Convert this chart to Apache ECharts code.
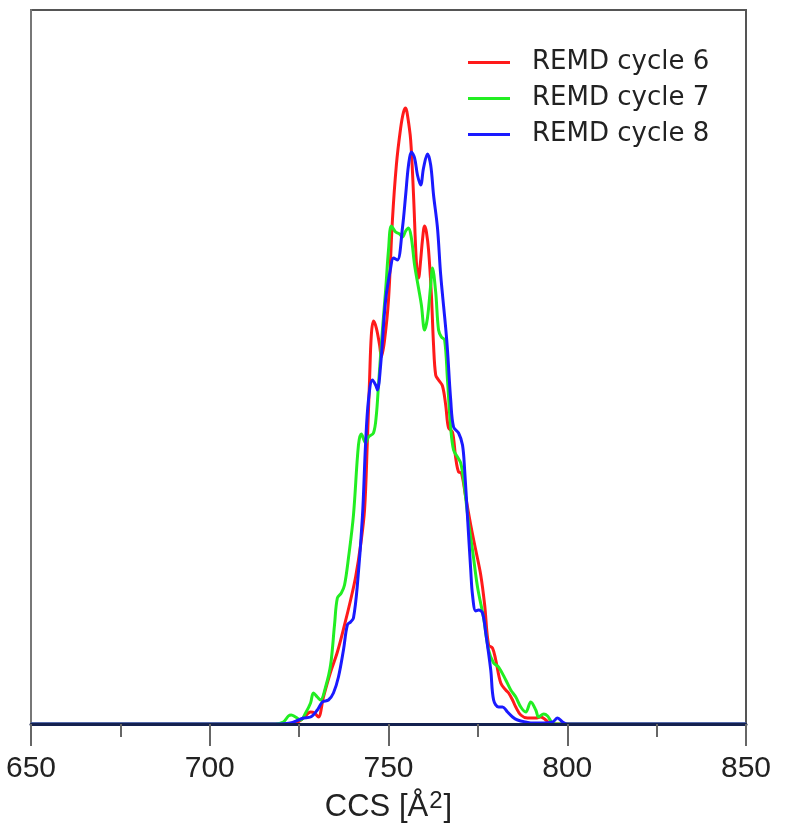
<!DOCTYPE html>
<html>
<head>
<meta charset="utf-8">
<script src="https://cdn.jsdelivr.net/npm/echarts@6/dist/echarts.min.js"></script>
<style>
  html, body { margin: 0; padding: 0; background: #fff; }
  #main { width: 785px; height: 823px; }
</style>
</head>
<body>
<div id="main"></div>
<script>
// CCS values (Å^2) and relative populations
var ccs6 = [650, 719.7, 724.0, 726.2, 728.2, 729.3, 730.4, 731.8, 733.8, 735.7, 737.7, 739.4, 740.8, 742.2, 743.3, 744.1, 744.7, 745.2, 745.8, 746.6, 747.5, 748.0, 748.9, 750.0, 751.1, 752.2, 753.4, 754.2, 754.8, 755.3, 756.2, 757.0, 757.8, 758.4, 759.0, 759.5, 760.1, 760.6, 761.2, 762.0, 762.6, 763.2, 764.0, 765.1, 766.0, 766.8, 767.9, 768.8, 769.6, 770.4, 771.6, 773.0, 774.4, 775.8, 776.9, 778.0, 779.1, 780.0, 781.4, 782.8, 783.6, 784.7, 785.6, 787.0, 788.9, 791.2, 792.6, 794.0, 795.4, 798.2, 850];
var pop6 = [0, 0, 0.14, 0.84, 1.68, 1.54, 0.98, 3.78, 7.28, 10.08, 13.87, 17.37, 20.59, 25.07, 29.97, 39.78, 48.18, 54.48, 56.44, 55.46, 53.08, 51.40, 53.78, 59.38, 70.59, 78.29, 83.47, 85.71, 86.27, 85.29, 81.79, 74.09, 64.71, 62.46, 64.99, 67.79, 69.75, 68.91, 66.39, 60.08, 53.08, 48.88, 48.18, 47.34, 44.68, 41.46, 40.90, 37.25, 35.29, 35.15, 31.79, 27.87, 24.37, 20.87, 16.67, 11.06, 10.64, 8.96, 5.74, 4.76, 4.34, 3.36, 2.38, 1.26, 0.84, 0.84, 0.98, 0.56, 0, 0, 0];

var ccs7 = [650, 718.3, 720.6, 722.0, 722.8, 724.0, 725.4, 726.8, 728.2, 729.0, 730.1, 731.0, 732.4, 733.8, 734.9, 735.7, 736.8, 737.7, 738.8, 740.2, 741.6, 742.4, 743.6, 744.4, 745.8, 746.6, 747.2, 748.3, 749.2, 750.0, 750.8, 752.0, 753.1, 753.9, 754.8, 755.6, 756.4, 757.3, 758.4, 759.2, 760.1, 760.9, 761.8, 762.3, 763.2, 764.0, 764.8, 765.7, 766.5, 767.4, 768.2, 769.3, 770.2, 771.0, 772.4, 773.5, 774.9, 776.6, 778.0, 779.4, 780.8, 782.8, 784.2, 785.6, 787.0, 788.4, 789.8, 791.2, 792.0, 793.4, 794.5, 795.9, 798.2, 850];
var pop7 = [0, 0, 0.28, 1.12, 1.26, 0.98, 0.56, 1.54, 2.94, 4.34, 3.78, 3.36, 5.18, 8.26, 13.87, 17.65, 18.35, 19.47, 23.25, 29.27, 39.08, 40.62, 39.36, 40.20, 40.76, 43.28, 47.48, 55.18, 60.78, 66.39, 69.75, 68.91, 68.63, 68.21, 69.05, 69.47, 68.07, 64.29, 61.06, 58.68, 55.18, 56.86, 61.48, 63.87, 60.50, 55.18, 54.20, 53.78, 48.18, 41.46, 38.38, 37.39, 36.55, 34.17, 28.15, 24.37, 19.19, 14.85, 10.36, 8.54, 7.98, 6.16, 4.76, 3.78, 2.38, 1.68, 3.08, 1.96, 0.98, 1.40, 1.12, 0.14, 0, 0];

var ccs8 = [650, 718.3, 722.5, 724.8, 726.2, 728.2, 730.1, 731.5, 733.2, 734.6, 736.0, 737.4, 738.5, 739.4, 740.2, 741.3, 742.7, 743.6, 744.4, 745.5, 746.4, 746.9, 747.8, 749.2, 750.6, 751.4, 752.5, 753.9, 754.8, 755.6, 756.4, 757.3, 758.1, 759.0, 759.8, 760.9, 761.8, 762.6, 763.7, 764.6, 766.0, 766.5, 767.4, 768.2, 769.6, 770.7, 771.3, 772.1, 773.0, 773.5, 774.4, 775.2, 776.3, 777.2, 778.6, 779.4, 780.8, 781.9, 783.3, 784.7, 786.1, 788.4, 790.6, 793.4, 795.9, 797.3, 798.7, 800.1, 802.4, 850];
var pop8 = [0, 0, 0.14, 0.56, 0.84, 0.98, 1.96, 3.08, 3.36, 4.34, 6.58, 10.36, 13.87, 14.29, 14.85, 19.47, 28.99, 39.36, 45.38, 48.18, 47.48, 46.78, 50.28, 59.38, 63.87, 65.27, 64.99, 69.47, 74.09, 78.29, 80.11, 79.27, 76.89, 75.49, 77.87, 79.83, 78.29, 74.09, 69.47, 62.89, 55.46, 52.38, 45.38, 41.60, 40.76, 39.08, 35.57, 28.99, 21.57, 18.07, 15.83, 15.97, 15.55, 12.75, 7.56, 3.36, 2.38, 2.38, 1.68, 0.98, 0.56, 0.28, 0.14, 0.14, 0.28, 0.84, 0.28, 0, 0, 0];

var seriesNames = ['REMD cycle 6', 'REMD cycle 7', 'REMD cycle 8'];
var seriesColors = ['#ff1a1a', '#22ee22', '#1a1aff'];
var xTicks = [650, 700, 750, 800, 850];

function pairs(xs, ys) {
    var out = [];
    for (var i = 0; i < xs.length; i++) {
        out.push([xs[i], ys[i]]);
    }
    return out;
}

var allData = [pairs(ccs6, pop6), pairs(ccs7, pop7), pairs(ccs8, pop8)];

var dom = document.getElementById('main');
var myChart = echarts.init(dom);

var series = [];
for (var i = 0; i < 3; i++) {
    series.push({
        name: seriesNames[i],
        type: 'line',
        data: allData[i],
        showSymbol: false,
        smooth: 0.35,
        color: seriesColors[i],
        lineStyle: { width: 3, color: seriesColors[i] }
    });
}

var option = {
    animation: false,
    backgroundColor: '#fff',
    grid: {
        left: 31,
        right: 39,
        top: 10,
        bottom: 99,
        outerBoundsMode: 'none',
        show: true,
        borderColor: '#555',
        borderWidth: 2
    },
    legend: {
        orient: 'vertical',
        left: 463,
        top: 44,
        itemWidth: 42,
        itemHeight: 3,
        itemGap: 9,
        icon: 'rect',
        textStyle: {
            fontFamily: 'DejaVu Sans',
            fontSize: 26,
            lineHeight: 27,
            color: '#222',
            padding: [0, 0, 0, 17]
        },
        data: seriesNames
    },
    xAxis: {
        type: 'value',
        min: 650,
        max: 850,
        interval: 50,
        z: 10,
        name: '{a|CCS [Å}{s|2}{a|]}',
        nameLocation: 'middle',
        nameGap: 63,
        nameTextStyle: {
            rich: {
                a: { fontFamily: 'Liberation Sans', fontSize: 31, color: '#222' },
                s: { fontFamily: 'Liberation Sans', fontSize: 24, color: '#222', verticalAlign: 'top', padding: [0, 1, 14, 1] }
            }
        },
        axisLine: { lineStyle: { color: '#14214f', width: 3 } },
        axisTick: { length: 22, lineStyle: { color: '#666', width: 2 } },
        minorTick: { show: true, splitNumber: 2, length: 13, lineStyle: { color: '#666', width: 2 } },
        axisLabel: {
            margin: 30,
            fontFamily: 'Liberation Sans',
            fontSize: 30,
            color: '#222',
            formatter: function (v) { return xTicks.indexOf(v) >= 0 ? String(v) : ''; }
        },
        splitLine: { show: false }
    },
    yAxis: {
        type: 'value',
        min: 0,
        max: 100,
        axisLine: { show: true, lineStyle: { color: '#777', width: 2 } },
        axisTick: { show: false },
        axisLabel: { show: false },
        splitLine: { show: false }
    },
    series: series
};

if (option && typeof option === 'object') {
    myChart.setOption(option);
}
</script>
</body>
</html>
